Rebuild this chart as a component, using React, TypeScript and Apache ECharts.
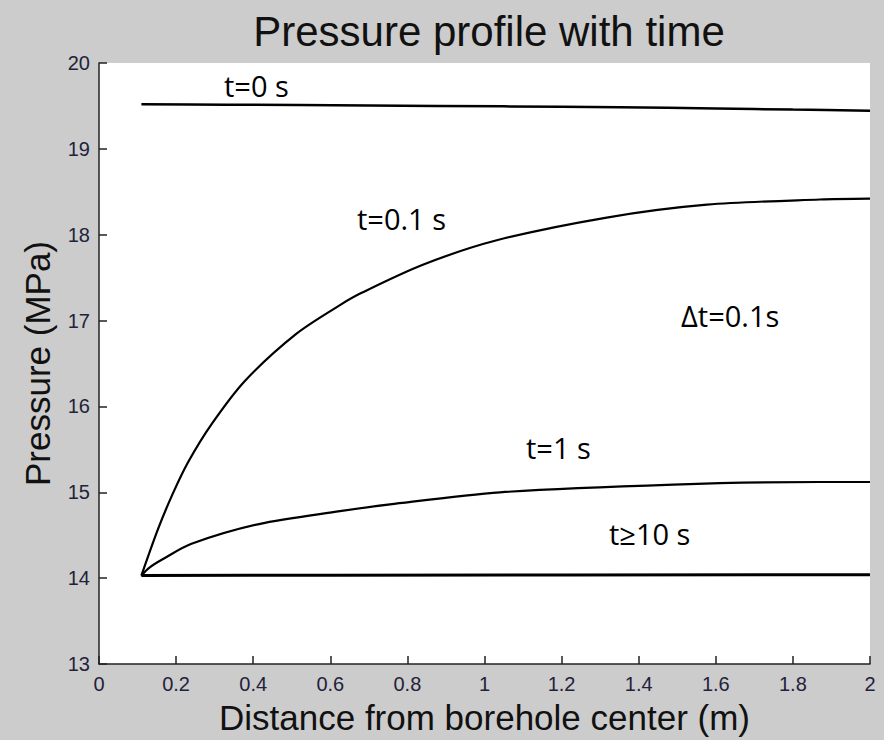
import React, { useEffect, useRef } from "react";
import * as echarts from "echarts";

const titleText = "Pressure profile with time";
const xAxisName = "Distance from borehole center (m)";
const yAxisName = "Pressure (MPa)";

// t = 0 s
const xT0 = [0.11, 0.33, 0.7, 1.05, 1.35, 1.6, 1.8, 2.0];
const yT0 = [19.52, 19.515, 19.505, 19.495, 19.485, 19.47, 19.457, 19.445];

// t = 0.1 s
const xT01 = [0.11, 0.153, 0.19, 0.231, 0.293, 0.379, 0.51, 0.625, 0.68, 0.84, 1.027, 1.317, 1.577, 1.87, 2.0];
const yT01 = [14.03, 14.57, 14.97, 15.35, 15.8, 16.3, 16.84, 17.18, 17.32, 17.65, 17.93, 18.2, 18.35, 18.41, 18.42];

// t = 1 s
const xT1 = [0.11, 0.13, 0.165, 0.24, 0.415, 0.625, 0.755, 1.04, 1.49, 1.87, 2.0];
const yT1 = [14.03, 14.12, 14.22, 14.4, 14.63, 14.78, 14.86, 15.0, 15.09, 15.12, 15.12];

// t >= 10 s
const xT10 = [0.11, 0.6, 2.0];
const yT10 = [14.03, 14.035, 14.04];

const annotations = [
  { text: "t=0 s", left: 224, top: 71 },
  { text: "t=0.1 s", left: 357, top: 204 },
  { text: "\u0394t=0.1s", left: 681, top: 301 },
  { text: "t=1 s", left: 526, top: 433 },
  { text: "t\u226510 s", left: 609, top: 519 },
];

const zip = (xs: number[], ys: number[]) => xs.map((x, i) => [x, ys[i]]);

export default function App() {
  const ref = useRef<HTMLDivElement>(null);
  useEffect(() => {
    if (!ref.current) return;
    const chart = echarts.init(ref.current, null, { renderer: "svg" });
    const axisFont = "Liberation Sans, Arial, sans-serif";
    const lineSeries = (name: string, data: number[][], width: number) => ({
      name,
      type: "line",
      data,
      showSymbol: false,
      symbol: "none",
      smooth: 0.3,
      lineStyle: { color: "#000", width },
      silent: true,
    });
    chart.setOption({
      animation: false,
      backgroundColor: "#cccccc",
      title: {
        text: titleText,
        left: 484,
        textAlign: "center",
        top: 5,
        textStyle: { fontFamily: axisFont, fontSize: 42, fontWeight: "normal", color: "#111" },
      },
      grid: {
        left: 99,
        right: 14,
        top: 63,
        bottom: 75,
        show: true,
        backgroundColor: "#ffffff",
        borderWidth: 0,
      },
      xAxis: {
        type: "value",
        min: 0,
        max: 2,
        interval: 0.2,
        name: xAxisName,
        nameLocation: "middle",
        nameGap: 36,
        nameTextStyle: { fontFamily: axisFont, fontSize: 35, color: "#111" },
        axisLine: { lineStyle: { color: "#222", width: 1.5 } },
        axisTick: { inside: true, length: 8, lineStyle: { color: "#222", width: 1.5 } },
        axisLabel: { fontFamily: axisFont, fontSize: 20, color: "#22223a", margin: 10 },
        splitLine: { show: false },
      },
      yAxis: {
        type: "value",
        min: 13,
        max: 20,
        interval: 1,
        name: yAxisName,
        nameLocation: "middle",
        nameGap: 44,
        nameTextStyle: { fontFamily: axisFont, fontSize: 35, color: "#111" },
        axisLine: { show: true, lineStyle: { color: "#222", width: 1.5 } },
        axisTick: { show: true, inside: true, length: 8, lineStyle: { color: "#222", width: 1.5 } },
        axisLabel: { fontFamily: axisFont, fontSize: 20, color: "#22223a", margin: 9 },
        splitLine: { show: false },
      },
      series: [
        lineSeries("t=0 s", zip(xT0, yT0), 2.5),
        lineSeries("t=0.1 s", zip(xT01, yT01), 2.2),
        lineSeries("t=1 s", zip(xT1, yT1), 2.2),
        lineSeries("t>=10 s", zip(xT10, yT10), 3),
      ],
      graphic: annotations.map((a) => ({
        type: "text",
        left: a.left,
        top: a.top,
        silent: true,
        style: {
          text: a.text,
          fill: "#000",
          font: "29px 'Open Sans', Lato, sans-serif",
        },
      })),
    });
    return () => chart.dispose();
  }, []);
  return (
    <div
      ref={ref}
      style={{ position: "fixed", left: 0, top: 0, width: 884, height: 740 }}
    />
  );
}
